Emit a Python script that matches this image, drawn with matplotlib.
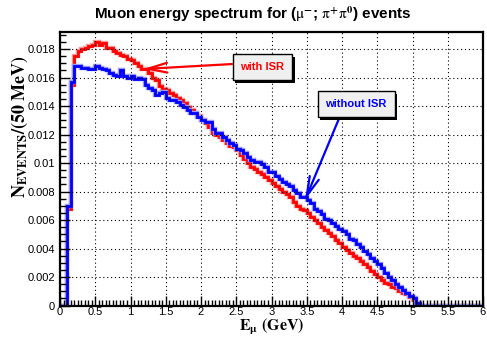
import numpy as np
import matplotlib
matplotlib.use("Agg")
import matplotlib.pyplot as plt
import matplotlib.patheffects as pe
from matplotlib.ticker import MultipleLocator, FuncFormatter

plt.rcParams["font.family"] = ["Liberation Sans", "DejaVu Sans"]
plt.rcParams["mathtext.fontset"] = "stix"

# 50 MeV bins from 0 to 6 GeV
bin_edges = np.linspace(0.0, 6.0, 121)

# bin contents (bins from 0.0 GeV, 50 MeV each)
with_isr = [
    0.0, 0.0, 0.0068, 0.0155,
    0.0175, 0.0179, 0.0180, 0.0181, 0.0182, 0.0183, 0.0185, 0.0183, 0.0184, 0.0181,
    0.0181, 0.0179, 0.0177, 0.0176, 0.0175, 0.0173, 0.0172, 0.0170, 0.0168, 0.0166,
    0.0166, 0.0163, 0.0160, 0.0158, 0.0154, 0.0152, 0.0151, 0.0149, 0.0148, 0.0146,
    0.0144, 0.0142, 0.0139, 0.0137, 0.0135, 0.0133, 0.0130, 0.0128, 0.0125, 0.0121,
    0.0120, 0.0118, 0.0116, 0.0114, 0.0112, 0.0111, 0.0109, 0.0106, 0.0103, 0.0100,
    0.0097, 0.0096, 0.0094, 0.0092, 0.0090, 0.0088, 0.0086, 0.0084, 0.0082, 0.0080,
    0.0078, 0.0076, 0.0073, 0.0070, 0.0068, 0.0067, 0.0065, 0.0062, 0.0060, 0.0058,
    0.0055, 0.0053, 0.0051, 0.0049, 0.0046, 0.0044, 0.0041, 0.0039, 0.0037, 0.0035,
    0.0033, 0.0031, 0.0029, 0.0027, 0.0024, 0.0022, 0.0020, 0.0018, 0.0016, 0.0015,
    0.0013, 0.0012, 0.0010, 0.0009, 0.0008, 0.0006, 0.0004, 0.0002,
] + [0.0] * 18

without_isr = [
    0.0, 0.0, 0.0070, 0.0157,
    0.0168, 0.0168, 0.0167, 0.0167, 0.0166, 0.0166, 0.0168, 0.0167, 0.0166, 0.0165,
    0.0163, 0.0162, 0.0161, 0.0165, 0.0161, 0.0160, 0.0161, 0.0159, 0.0160, 0.0159,
    0.0155, 0.0153, 0.0151, 0.0148, 0.0149, 0.0150, 0.0146, 0.0144, 0.0144, 0.0143,
    0.0141, 0.0139, 0.0137, 0.0135, 0.0135, 0.0132, 0.0130, 0.0129, 0.0129, 0.0124,
    0.0121, 0.0121, 0.0118, 0.0116, 0.0114, 0.0113, 0.0110, 0.0109, 0.0107, 0.0104,
    0.0102, 0.0101, 0.0101, 0.0099, 0.0097, 0.0094, 0.0094, 0.0091, 0.0089, 0.0087,
    0.0085, 0.0084, 0.0081, 0.0079, 0.0076, 0.0076, 0.0074, 0.0072, 0.0068, 0.0066,
    0.0064, 0.0061, 0.0060, 0.0058, 0.0056, 0.0054, 0.0052, 0.0050, 0.0047, 0.0046,
    0.0043, 0.0041, 0.0038, 0.0036, 0.0033, 0.0031, 0.0029, 0.0026, 0.0023, 0.0020,
    0.0018, 0.0015, 0.0013, 0.0011, 0.0009, 0.0007, 0.0005, 0.0002,
] + [0.0] * 18

fig = plt.figure(figsize=(4.87, 3.37), dpi=100)
ax = fig.add_axes([60 / 487, 31.5 / 337, 423 / 487, 273.5 / 337])

ax.stairs(with_isr, bin_edges, color="#ff0000", lw=2.0,
          path_effects=[pe.Stroke(linewidth=3.2, foreground="#ff9a9a"), pe.Normal()])
ax.stairs(without_isr, bin_edges, color="#0000ff", lw=2.0,
          path_effects=[pe.Stroke(linewidth=3.2, foreground="#9a9aff"), pe.Normal()])

ax.set_xlim(0, 6)
ax.set_ylim(0, 0.0192)

ax.xaxis.set_major_locator(MultipleLocator(0.5))
ax.xaxis.set_minor_locator(MultipleLocator(0.05))
ax.yaxis.set_major_locator(MultipleLocator(0.002))
ax.yaxis.set_minor_locator(MultipleLocator(0.0005))
fmt = FuncFormatter(lambda v, p: "%g" % round(v, 6))
ax.xaxis.set_major_formatter(fmt)
ax.yaxis.set_major_formatter(fmt)
ax.tick_params(which="both", direction="in", labelsize=8, width=1.0)
ax.tick_params(which="major", length=7)
ax.tick_params(which="minor", length=4)
ax.tick_params(axis="x", pad=1)
ax.grid(True, which="major", color="black", ls=(0, (1, 2.5)), lw=0.8)

for s in ax.spines.values():
    s.set_linewidth(1.6)

fig.text(0.52, 0.958, r"Muon energy spectrum for ($\mathrm{\mu}^{\mathbf{-}}$; $\mathrm{\pi}^{\mathbf{+}}\mathrm{\pi}^{\mathbf{0}}$) events",
         ha="center", va="center", fontsize=11, fontweight="bold")

ax.text(-0.095, 0.915, r"$\mathbf{N_{EVENTS}/(50\ MeV)}$", transform=ax.transAxes,
        rotation=90, ha="center", va="top", fontsize=13)
ax.text(0.5, -0.092, r"$\mathbf{E_{\mu}\ (GeV)}$", transform=ax.transAxes,
        ha="center", va="baseline", fontsize=11.5)

labels = [("with ISR", "#ff0000", (2.87, 0.01674), (2.44, 0.01695), (1.18, 0.0166)),
          ("without ISR", "#0000ff", (4.2, 0.01414), (3.97, 0.01327), (3.475, 0.0074))]
for txt, col, pos, start, tip in labels:
    ax.annotate("", xy=tip, xytext=start,
                arrowprops=dict(arrowstyle="->,head_length=1.4,head_width=0.35",
                                color=col, lw=1.6, shrinkA=0, shrinkB=0))
    t = ax.text(pos[0], pos[1], txt, color=col, fontsize=8, fontweight="bold",
                ha="center", va="center", zorder=5,
                bbox=dict(boxstyle="square,pad=0.7", fc="#f0f0f0", ec="black", lw=1.0))
    t.get_bbox_patch().set_path_effects(
        [pe.SimplePatchShadow(offset=(2, -2), shadow_rgbFace="black", alpha=1.0), pe.Normal()])

fig.savefig("out.png", dpi=100)
